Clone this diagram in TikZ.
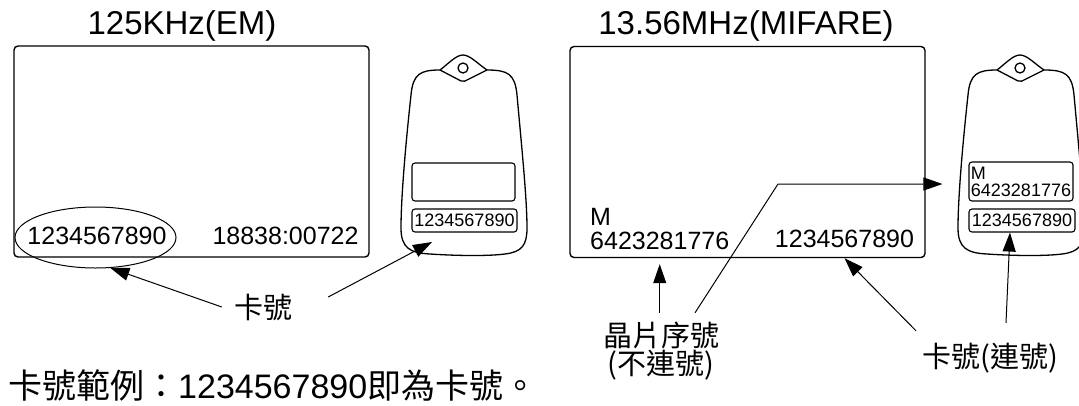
\documentclass[tikz,border=0pt]{standalone}
\usepackage{fontspec}
\setmainfont{Liberation Sans}
\newfontfamily\cjk{Noto Sans CJK TC}
\usetikzlibrary{arrows.meta,shapes.geometric,positioning}

\begin{document}
\begin{tikzpicture}[
    x=1pt, y=-1pt,
    % GLOBAL CFG
    >={Triangle[length=19pt,width=13pt]},
    % Styles
    card/.style={% For the two cards
        rectangle,
        rounded corners=4pt,
        draw,
        line width=1.4pt,
        minimum width=355pt,
        minimum height=211pt,
        inner sep=0pt,
        },
    title/.style={% For the card titles
        font=\fontsize{33}{36}\selectfont,
        inner sep=0pt,
        },
    num/.style={% For numbers printed on the cards
        font=\fontsize{25}{28}\selectfont,
        inner sep=0pt,
        },
    tagline/.style={% For the key tag outlines
        line width=1.3pt,
        line join=round,
        },
    window/.style={% For boxes on the tags
        rectangle,
        rounded corners=3pt,
        draw,
        line width=1.1pt,
        inner sep=0pt,
        font=\fontsize{18}{17}\selectfont,
        },
    cjklbl/.style={% For the chinese labels
        font=\cjk\fontsize{29}{25}\selectfont,
        inner sep=0pt,
        align=center,
        },
    ArrowC1/.style={% Thin arrows
        line width=1pt,
        }
    ]

    \useasboundingbox (0,0) rectangle (1079,405);

    % Draw the cards
    \node [card] (cardEM) at (191.5,151.5) {};
    \node [card] (cardMF) at (747.5,152) {};
    \node [title] (tEM) at (182,26) {125KHz(EM)};
    \node [title] (tMF) at (746,26) {13.56MHz(MIFARE)};

    % Numbers on the cards
    \node [num] (emnum) at (97,236) {1234567890};
    \node [num] (emdec) at (285.5,236) {18838:00722};
    \node [ellipse, draw, line width=1pt, minimum width=161pt, minimum height=61pt] (emring) at (95.5,237.5) {};
    \node [num, anchor=base west] (chipM) at (590,225) {M};
    \node [num, anchor=base west] (chipnum) at (590,249) {6423281776};
    \node [num, anchor=base] (mfnum) at (844.5,247) {1234567890};

    % Draw the tags
    \foreach \dx in {0,557}{
        \begin{scope}[xshift=\dx pt]
        \draw [tagline] (440,70) .. controls (420,70) and (413,74) .. (411,95)
            .. controls (405,150) and (401,200) .. (401,228)
            .. controls (401,248) and (410,253) .. (430,254)
            .. controls (460,256) and (490,256) .. (505,254)
            .. controls (522,252) and (527,245) .. (527,228)
            .. controls (527,200) and (522,150) .. (517,95)
            .. controls (515,74) and (508,70) .. (487,70)
            .. controls (478,64) and (470,55) .. (463,55)
            .. controls (456,55) and (448,64) .. (440,70) -- cycle;
        \draw [tagline, rounded corners=2pt] (440,70) -- (463,82) -- (487,70);
        \draw [tagline] (463,68) circle[radius=5];
        \end{scope}
    }
    \node [window, minimum width=103pt, minimum height=38pt] (tagEMblank) at (463.5,182) {};
    \node [window, minimum width=105pt, minimum height=23pt] (tagEMnum) at (464.5,220.5) {1234567890};
    \node [window, minimum width=104pt, minimum height=39pt, align=left] (tagMFchip) at (1021,181.5) {M\\6423281776};
    \node [window, minimum width=106pt, minimum height=23pt] (tagMFnum) at (1022,220.5) {1234567890};

    % Labels
    \node [cjklbl] (cardno) at (263,307) {卡號};
    \node [cjklbl] (chiplbl) at (661,351) {晶片序號\\(不連號)};
    \node [cjklbl] (serlbl) at (990,358) {卡號(連號)};
    \node [font=\fontsize{34}{36}\selectfont, anchor=base west, inner sep=0pt] (example) at (8,398) {{\cjk 卡號範例：}1234567890{\cjk 即為卡號。}};

    % Helper points
    \coordinate (tagEMtip) at (432,242);
    \coordinate (kink) at (778,184);
    \path (cardMF.south -| chipnum) ++(0,6) coordinate (chiptip);
    \path (kink -| tagMFchip.west) ++(-26,0) coordinate (chiptagtip);

    % Drawing arrows
    \draw [->, ArrowC1] ([xshift=-12pt]cardno.west) -- (emring.-64);
    \draw [->, ArrowC1] ([xshift=36pt,yshift=10pt]cardno.east) -- (tagEMtip);
    \draw [->, ArrowC1] ([yshift=9pt]chiplbl.north -| chipnum) -- (chiptip);
    \draw [->, ArrowC1] ([xshift=34pt,yshift=9pt]chiplbl.north) -- (kink) -- (chiptagtip);
    \draw [->, ArrowC1] ([shift={(-6pt,12pt)}]serlbl.north west) -- (cardMF.south -| mfnum);
    \draw [->, ArrowC1] ([shift={(16pt,20pt)}]serlbl.north) -- ([xshift=-12pt]tagMFnum.south);

\end{tikzpicture}
\end{document}
